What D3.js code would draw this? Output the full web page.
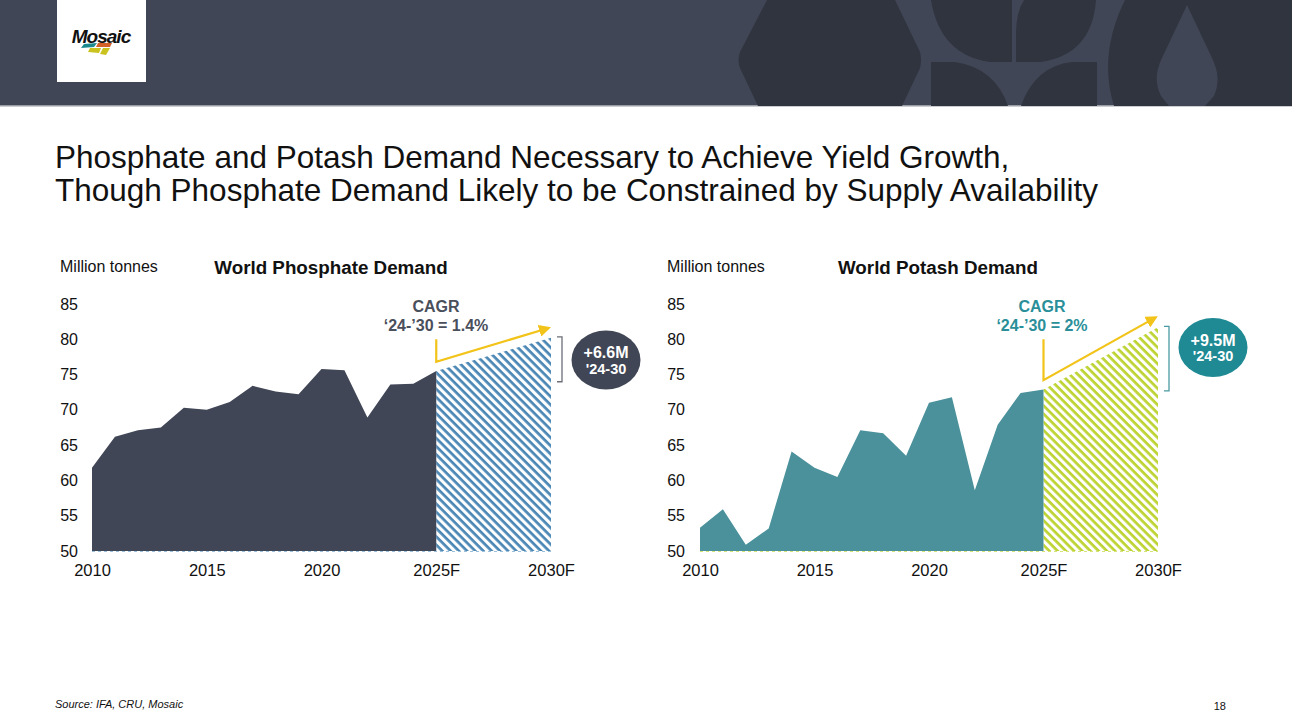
<!DOCTYPE html>
<html>
<head>
<meta charset="utf-8">
<script src="https://cdn.jsdelivr.net/npm/d3@7"></script>
<style>
  body { margin: 0; background: #fff; }
  svg { display: block; font-family: "Liberation Sans", Arial, sans-serif; }
</style>
</head>
<body>
<div id="slide"></div>
<script>
// ---- data ----
const years = [2010, 2011, 2012, 2013, 2014, 2015, 2016, 2017, 2018, 2019, 2020, 2021, 2022, 2023, 2024, 2025];
const phosphateDemand = [61.8, 66.2, 67.1, 67.5, 70.3, 70.0, 71.1, 73.4, 72.6, 72.2, 75.8, 75.6, 68.9, 73.6, 73.7, 75.5];
const potashDemand = [53.3, 55.9, 50.9, 53.2, 64.1, 61.8, 60.5, 67.1, 66.7, 63.5, 71.0, 71.8, 58.6, 67.9, 72.4, 72.9];
const forecastYears = [2025, 2030];
const phosphateForecast = [75.5, 80.2];
const potashForecast = [72.9, 81.7];
const yTicks = [50, 55, 60, 65, 70, 75, 80, 85];
const xTicks = [2010, 2015, 2020, 2025, 2030];
const xTickLabels = ["2010", "2015", "2020", "2025F", "2030F"];

const W = 1292, H = 728;

const svg = d3.select("#slide")
  .append("svg")
  .attr("width", W)
  .attr("height", H);

const defs = svg.append("defs");

// diagonal hatch patterns for the forecast part
function hatch(id, color) {
  const p = defs.append("pattern")
    .attr("id", id)
    .attr("patternUnits", "userSpaceOnUse")
    .attr("width", 5.8)
    .attr("height", 5.8)
    .attr("patternTransform", "rotate(45)");
  p.append("rect").attr("width", 5.8).attr("height", 5.8).attr("fill", "#fff");
  p.append("rect").attr("width", 5.8).attr("height", 2.7).attr("fill", color);
}
hatch("hatchBlue", "#4b87b5");
hatch("hatchGreen", "#bdd331");

defs.append("marker")
  .attr("id", "arrowHead")
  .attr("viewBox", "0 0 10 10")
  .attr("refX", 8)
  .attr("refY", 5)
  .attr("markerWidth", 5.5)
  .attr("markerHeight", 5.5)
  .attr("orient", "auto")
  .append("path")
  .attr("d", "M0,0 L10,5 L0,10 z")
  .attr("fill", "#f2c318");

// ---- header band ----
const header = svg.append("g");
header.append("rect").attr("width", W).attr("height", 106).attr("fill", "#414656");
header.append("rect").attr("y", 105).attr("width", W).attr("height", 1.5).attr("fill", "#9a9ca4");

const deco = "#30343f";
header.append("path").attr("fill", deco)
  .attr("d", "M767,0 L895,0 L920,52 Q922,60 920,68 L902,106 L758,106 L740,68 Q737,60 740,52 Z");
header.append("path").attr("fill", deco)
  .attr("d", "M931,0 L1012,0 L1012,62 L990,62 Q940,55 931,0 Z");
header.append("path").attr("fill", deco)
  .attr("d", "M1024,0 L1096,0 Q1092,55 1040,62 L1016,62 L1016,35 Q1016,12 1024,0 Z");
header.append("path").attr("fill", deco)
  .attr("d", "M931,62 L955,62 Q995,68 1008,106 L931,106 Z");
header.append("path").attr("fill", deco)
  .attr("d", "M1097,62 L1097,106 L1021,106 Q1035,66 1072,62 Z");
header.append("path").attr("fill", deco)
  .attr("d", "M1125,0 L1292,0 L1292,106 L1114,106 Q1098,55 1125,0 Z");
header.append("path").attr("fill", "#414656")
  .attr("d", "M1187,5 L1212,58 Q1222,78 1214,96 L1205,106 L1169,106 L1161,96 Q1152,78 1162,58 Z");

// logo
const logo = header.append("g");
logo.append("rect").attr("x", 57).attr("y", 0).attr("width", 89).attr("height", 82).attr("fill", "#fff");
logo.append("text")
  .attr("x", 101).attr("y", 43)
  .attr("text-anchor", "middle")
  .style("font-size", "19px")
  .style("font-weight", "bold")
  .style("font-style", "italic")
  .style("letter-spacing", "-1px")
  .attr("fill", "#111")
  .text("Mosaic");
logo.append("path").attr("fill", "#1b8a8f").attr("d", "M84,44 L97,43 L94,47 L81,48 Z");
logo.append("path").attr("fill", "#d2622a").attr("d", "M98,43 L112,43 L110,47 L96,47 Z");
logo.append("path").attr("fill", "#c9c21f").attr("d", "M90,48 L101,48 L99,53 L88,52 Z");
logo.append("path").attr("fill", "#c9c21f").attr("d", "M103,48 L110,48 L106,55 L100,54 Z");

// ---- slide title ----
const title = svg.append("text")
  .attr("x", 55)
  .attr("fill", "#111")
  .style("font-size", "31.5px");
title.append("tspan").attr("x", 55).attr("y", 168)
  .text("Phosphate and Potash Demand Necessary to Achieve Yield Growth,");
title.append("tspan").attr("x", 55).attr("y", 201)
  .text("Though Phosphate Demand Likely to be Constrained by Supply Availability");

// ---- one chart panel ----
function drawChart(cfg) {
  const x = d3.scaleLinear().domain([2010, 2030]).range([cfg.x0, cfg.x1]);
  const y = d3.scaleLinear().domain([50, 85]).range([551, 304]);
  const g = svg.append("g");

  g.append("text")
    .attr("x", cfg.labelX).attr("y", 272)
    .attr("fill", "#111")
    .style("font-size", "16px")
    .text("Million tonnes");

  g.append("text")
    .attr("x", cfg.titleX).attr("y", 274)
    .attr("text-anchor", "middle")
    .attr("fill", "#111")
    .style("font-size", "18.8px")
    .style("font-weight", "bold")
    .text(cfg.title);

  const area = d3.area()
    .x((d) => x(d[0]))
    .y0(y(50))
    .y1((d) => y(d[1]));

  g.append("path")
    .datum(forecastYears.map((yr, i) => [yr, cfg.forecast[i]]))
    .attr("d", area)
    .attr("fill", `url(#${cfg.hatch})`);

  g.append("path")
    .datum(years.map((yr, i) => [yr, cfg.values[i]]))
    .attr("d", area)
    .attr("fill", cfg.fill);

  // dashed baseline
  g.append("line")
    .attr("x1", x(2010)).attr("x2", x(2030))
    .attr("y1", y(50) + 0.5).attr("y2", y(50) + 0.5)
    .attr("stroke", cfg.hatchColor)
    .attr("stroke-width", 1.2)
    .attr("stroke-dasharray", "3,3");

  // y axis labels
  const yAxis = g.append("g")
    .attr("transform", `translate(${cfg.labelX + 18},0)`)
    .call(d3.axisLeft(y).tickValues(yTicks).tickSize(0).tickPadding(0));
  yAxis.select(".domain").remove();
  yAxis.selectAll("text")
    .attr("fill", "#111")
    .style("font-size", "16px")
    .style("font-family", "'Liberation Sans', Arial, sans-serif");

  // x axis labels
  const xAxis = g.append("g")
    .attr("transform", `translate(0,${y(50)})`)
    .call(d3.axisBottom(x).tickValues(xTicks).tickSize(0).tickPadding(13)
      .tickFormat((d, i) => xTickLabels[i]));
  xAxis.select(".domain").remove();
  xAxis.selectAll("text")
    .attr("fill", "#111")
    .style("font-size", "16.5px")
    .style("font-family", "'Liberation Sans', Arial, sans-serif");

  // CAGR annotation
  const cagr = g.append("text")
    .attr("text-anchor", "middle")
    .attr("fill", cfg.cagrColor)
    .style("font-size", "16px")
    .style("font-weight", "bold");
  cagr.append("tspan").attr("x", cfg.cagrX).attr("y", 312).text("CAGR");
  cagr.append("tspan").attr("x", cfg.cagrX).attr("y", 331).text(cfg.cagrText);

  const startV = cfg.forecast[0];
  const endV = cfg.forecast[1];
  g.append("path")
    .attr("d", `M${x(2025)},${y(80)} L${x(2025)},${y(startV + 1.3)} L${x(2029.9)},${y(endV + 1.4)}`)
    .attr("fill", "none")
    .attr("stroke", "#f2c318")
    .attr("stroke-width", 2.2)
    .attr("marker-end", "url(#arrowHead)");

  // bracket for the '24-30 increase
  const bx = x(2030) + 11;
  const bTop = y(endV) - 1;
  const bBot = y(cfg.values[14]) - 2;
  g.append("path")
    .attr("d", `M${bx - 5},${bTop} L${bx},${bTop} L${bx},${bBot} L${bx - 5},${bBot}`)
    .attr("fill", "none")
    .attr("stroke", cfg.bracketColor)
    .attr("stroke-width", 1.3);

  const bubble = g.append("g").attr("transform", `translate(${bx + 44},${cfg.bubbleY})`);
  bubble.append("ellipse").attr("rx", 34.5).attr("ry", 29.5).attr("fill", cfg.bubbleColor);
  bubble.append("text")
    .attr("text-anchor", "middle").attr("y", -2)
    .attr("fill", "#fff")
    .style("font-size", "16px").style("font-weight", "bold")
    .text(cfg.bubbleTop);
  bubble.append("text")
    .attr("text-anchor", "middle").attr("y", 13.5)
    .attr("fill", "#fff")
    .style("font-size", "14.5px").style("font-weight", "bold")
    .text("'24-30");
}

drawChart({
  x0: 92, x1: 551, labelX: 60, titleX: 331,
  title: "World Phosphate Demand",
  values: phosphateDemand, forecast: phosphateForecast,
  fill: "#414656", hatch: "hatchBlue", hatchColor: "#9cc0dc",
  cagrColor: "#4a4f5c", cagrX: 436, cagrText: "\u201824-\u201930 = 1.4%",
  bracketColor: "#6b6e78", bubbleColor: "#414656", bubbleY: 360, bubbleTop: "+6.6M",
});

drawChart({
  x0: 700, x1: 1158, labelX: 667, titleX: 938,
  title: "World Potash Demand",
  values: potashDemand, forecast: potashForecast,
  fill: "#4a919b", hatch: "hatchGreen", hatchColor: "#d6e27a",
  cagrColor: "#2a8f99", cagrX: 1042, cagrText: "\u201824-\u201930 = 2%",
  bracketColor: "#4a9aa3", bubbleColor: "#1f8a94", bubbleY: 347.5, bubbleTop: "+9.5M",
});

// ---- footer ----
svg.append("text")
  .attr("x", 55).attr("y", 708)
  .attr("fill", "#111")
  .style("font-size", "11px")
  .style("font-style", "italic")
  .text("Source: IFA, CRU, Mosaic");

svg.append("text")
  .attr("x", 1226).attr("y", 710)
  .attr("text-anchor", "end")
  .attr("fill", "#111")
  .style("font-size", "11px")
  .text("18");
</script>
</body>
</html>
